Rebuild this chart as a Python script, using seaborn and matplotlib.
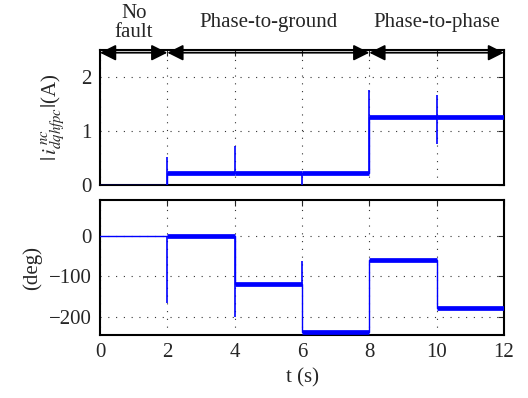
import matplotlib
matplotlib.use("Agg")
import matplotlib.pyplot as plt
import seaborn as sns
import pandas as pd

# ---------------- data ----------------
seg_edges = [0, 2, 4, 6, 8, 10, 12]                # segment boundaries (s)
mag_levels = [0.0, 0.22, 0.22, 0.22, 1.25, 1.25]   # |i| level per segment (A)
ang_levels = [0, 0, -119, -237, -60, -179]         # angle level per segment (deg)
noisy = [False, True, True, True, True, True]      # segments with measurement noise

# transient spikes at the switching instants: (time, lowest, highest)
mag_spike_t = [2, 4, 6, 8, 10]
mag_spike_lo = [0.0, 0.22, 0.0, 0.22, 0.75]
mag_spike_hi = [0.51, 0.72, 0.22, 1.76, 1.67]
ang_spike_t = [2, 4, 6]
ang_spike_lo = [-166, -200, -119]
ang_spike_hi = [0, 0, -62]

region_labels = ["No\nfault", "Phase-to-ground", "Phase-to-phase"]
region_edges = [0, 2, 8, 12]
xticks = [0, 2, 4, 6, 8, 10, 12]

# ---------------- style ----------------
sns.set_theme(style="white")
plt.rcParams["font.family"] = ["Liberation Serif", "DejaVu Serif"]
plt.rcParams["mathtext.fontset"] = "stix"
FS = 15
plt.rcParams["font.size"] = FS
blue = "#0000FF"


def step_frame(levels):
    t, v = [], []
    for i, lv in enumerate(levels):
        t += [seg_edges[i], seg_edges[i + 1]]
        v += [lv, lv]
    return pd.DataFrame({"t": t, "v": v})


fig = plt.figure(figsize=(5.28, 3.98), dpi=100)
W, H = 528, 398
left, width = 100 / W, 404 / W
ax1 = fig.add_axes([left, 1 - 185 / H, width, 135 / H])
ax2 = fig.add_axes([left, 1 - 335 / H, width, 135 / H])

for ax, levels, st, slo, shi in [
    (ax1, mag_levels, mag_spike_t, mag_spike_lo, mag_spike_hi),
    (ax2, ang_levels, ang_spike_t, ang_spike_lo, ang_spike_hi),
]:
    df = step_frame(levels)
    sns.lineplot(data=df, x="t", y="v", ax=ax, color=blue, lw=1.0,
                 estimator=None, sort=False, zorder=3)
    for i, lv in enumerate(levels):
        if noisy[i]:
            ax.hlines(lv, seg_edges[i], seg_edges[i + 1], color=blue,
                      lw=3.4, zorder=3)
    ax.vlines(st, slo, shi, color=blue, lw=1.2, zorder=3)
    ax.set_xlim(0, 12)
    ax.set_xticks(xticks)
    ax.grid(True, color="#333333", linestyle=(0, (1, 6)), lw=0.8)
    ax.tick_params(direction="in", top=True, right=True, length=4,
                   width=0.8, labelsize=FS, pad=6)
    for sp in ax.spines.values():
        sp.set_color("black")
        sp.set_linewidth(1.5)
    ax.set_xlabel("")
    ax.set_ylabel("")

ax1.set_ylim(0, 2.5)
ax1.set_yticks([0, 1, 2])
ax1.set_xticklabels([])
ax1.set_ylabel(r"$|\,i^{\,nc}_{dqhfpc}|$(A)", fontsize=FS, labelpad=10)

ax2.set_ylim(-245, 88)
ax2.set_yticks([-200, -100, 0])
ax2.set_yticklabels(["\u2212200", "\u2212100", "0"])
ax2.set_ylabel("(deg)", fontsize=FS, labelpad=5)
ax2.set_xlabel("t (s)", fontsize=FS, labelpad=4)

# region arrows and labels above the top panel
for i, lab in enumerate(region_labels):
    a, b = region_edges[i], region_edges[i + 1]
    ax1.annotate("", xy=(a, 2.45), xytext=(b, 2.45), xycoords="data",
                 annotation_clip=False,
                 arrowprops=dict(arrowstyle="<|-|>", color="black", lw=1.3,
                                 mutation_scale=24, shrinkA=0, shrinkB=0))
    ax1.text((a + b) / 2, 3.0, lab, ha="center", va="center",
             fontsize=FS, linespacing=1.05, clip_on=False)

fig.savefig("out.png", dpi=100)
